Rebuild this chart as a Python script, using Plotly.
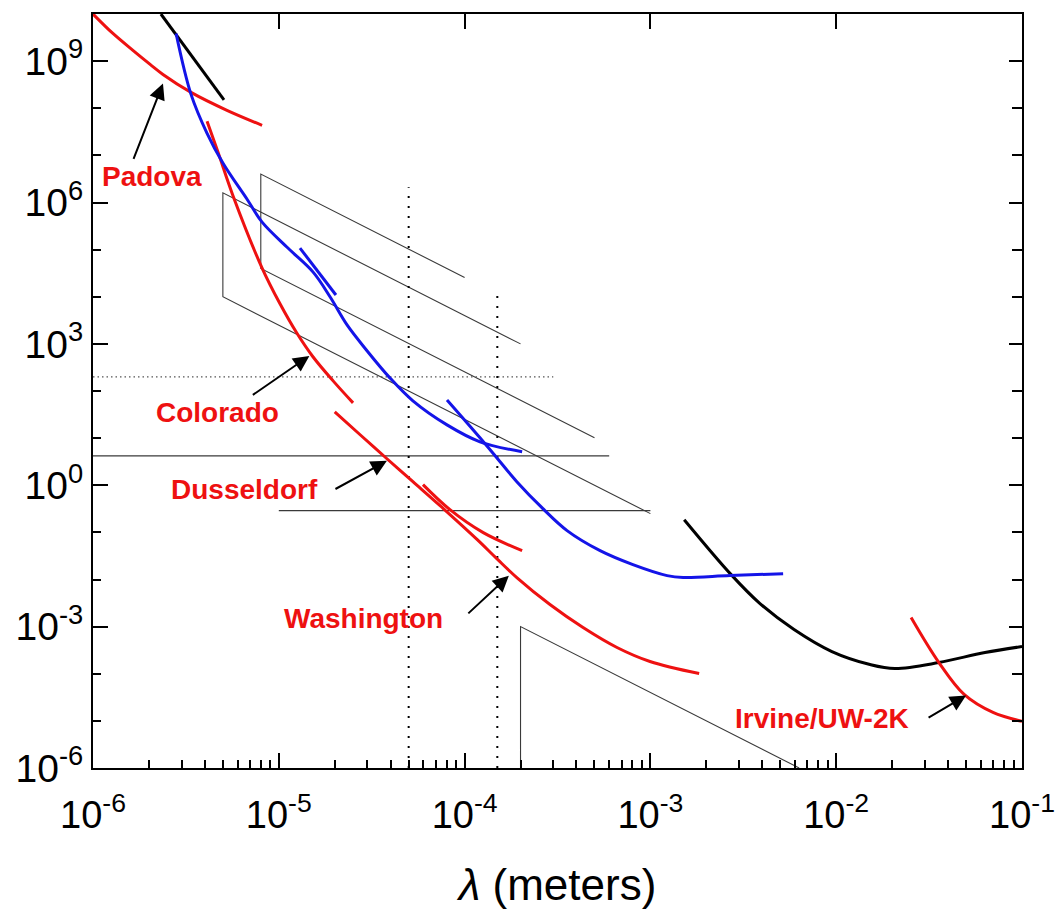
import math
import plotly.graph_objects as go

# ---- measured curves: wavelength (m) vs. strength ----
padova_lam = [1.0e-6, 1.28e-6, 1.64e-6, 2.03e-6, 2.38e-6, 3.37e-6, 5.26e-6, 8.13e-6]
padova_val = [1.0e10, 3.86e9, 1.69e9, 8.51e8, 5.22e8, 2.17e8, 9.04e7, 4.35e7]

black_top_lam = [2.32e-6, 5.07e-6]
black_top_val = [1.0e10, 1.51e8]

blue_main_lam = [2.80e-6, 3.37e-6, 4.11e-6, 5.01e-6, 6.75e-6, 8.13e-6, 1.12e-5,
                 1.53e-5, 1.89e-5, 2.33e-5, 2.99e-5, 3.96e-5, 5.27e-5, 8.04e-5,
                 1.21e-4, 2.04e-4]
blue_main_val = [3.86e9, 1.97e8, 2.94e7, 6.81e6, 1.17e6, 3.83e5, 1.08e5,
                 3.33e4, 9.86e3, 2.52e3, 708, 190, 61.8, 19.1,
                 8.36, 5.13]

blue_short_lam = [1.30e-5, 2.03e-5]
blue_short_val = [1.08e5, 1.09e4]

blue_tail_lam = [8.04e-5, 1.21e-4, 1.49e-4, 1.91e-4, 2.64e-4, 3.56e-4, 5.36e-4,
                 8.05e-4, 1.23e-3, 1.50e-3, 2.68e-3, 5.18e-3]
blue_tail_val = [64.7, 10.2, 3.83, 1.19, 0.318, 0.109, 0.0409,
                 0.0207, 0.0121, 0.0110, 0.0121, 0.0133]

colorado_lam = [4.11e-6, 4.71e-6, 5.68e-6, 8.13e-6, 1.01e-5, 1.25e-5, 1.53e-5,
                1.96e-5, 2.51e-5]
colorado_val = [5.27e7, 1.16e7, 1.36e6, 4.06e4, 7.36e3, 1.70e3, 527, 164, 56.0]

dusseldorf_lam = [2.00e-5, 2.74e-5, 3.82e-5, 5.27e-5, 7.38e-5, 1.17e-4, 1.49e-4,
                  1.91e-4, 2.88e-4, 4.34e-4, 6.61e-4, 9.95e-4, 1.83e-3]
dusseldorf_val = [36.1, 11.8, 3.65, 1.19, 0.368, 0.070, 0.0277,
                  0.0110, 2.94e-3, 9.57e-4, 3.61e-4, 1.82e-4, 1.01e-4]

washington_lam = [5.97e-5, 8.34e-5, 1.26e-4, 2.04e-4]
washington_val = [1.03, 0.303, 0.0986, 0.0409]

black_right_lam = [1.52e-3, 2.72e-3, 3.89e-3, 5.93e-3, 9.48e-3, 1.52e-2, 2.07e-2,
                   3.57e-2, 6.32e-2, 0.1]
black_right_val = [0.186, 0.0127, 3.08e-3, 8.69e-4, 2.96e-4, 1.57e-4, 1.29e-4,
                   1.73e-4, 2.82e-4, 3.78e-4]

irvine_lam = [2.53e-2, 3.57e-2, 4.88e-2, 6.98e-2, 0.1]
irvine_val = [1.56e-3, 1.73e-4, 3.64e-5, 1.51e-5, 9.75e-6]

# ---- projected sensitivity outlines (thin gray) ----
box_a_lam = [1e-3, 5e-6, 5e-6, 2e-4]
box_a_val = [0.25, 1e4, 1.6e6, 1e3]
box_b_lam = [5e-4, 8e-6, 8e-6, 1e-4]
box_b_val = [10.24, 4e4, 4e6, 2.56e4]
wedge_lam = [2e-4, 2e-4, 6.32e-3]
wedge_val = [1e-6, 1e-3, 1e-6]
hline_a_lam = [1e-6, 6e-4]
hline_a_val = [4.2, 4.2]
hline_b_lam = [1e-5, 1e-3]
hline_b_val = [0.29, 0.29]
hdot_lam = [1e-6, 3e-4]
hdot_val = [200, 200]
vdot_a_lam = [5e-5, 5e-5]
vdot_a_val = [1e-6, 2.1e6]
vdot_b_lam = [1.5e-4, 1.5e-4]
vdot_b_val = [1e-6, 1.1e4]

# ---- labels: text, label position, arrow tip, arrow tail offset (px) ----
group_labels = ["Padova", "Colorado", "Dusseldorf", "Washington", "Irvine/UW-2K"]
label_lam = [2.08e-6, 4.65e-6, 6.50e-6, 2.84e-5, 8.39e-3]
label_val = [3.6e6, 34.4, 0.80, 1.49e-3, 1.13e-5]
tip_lam = [2.38e-6, 1.46e-5, 3.82e-5, 1.73e-4, 5.0e-2]
tip_val = [3.37e8, 555, 3.30, 0.012, 3.47e-5]
tail_dx = [-30, -58, -53, -42, -39]
tail_dy = [77, 40, 29, 39, 23]

x_major = [1e-6, 1e-5, 1e-4, 1e-3, 1e-2, 1e-1]
x_text = ["10<sup>-6</sup>", "10<sup>-5</sup>", "10<sup>-4</sup>",
          "10<sup>-3</sup>", "10<sup>-2</sup>", "10<sup>-1</sup>"]
x_minor = [m * d for d in [1e-6, 1e-5, 1e-4, 1e-3, 1e-2] for m in range(2, 10)]
y_major = [1e-6, 1e-3, 1e0, 1e3, 1e6, 1e9]
y_text = ["10<sup>-6</sup>", "10<sup>-3</sup>", "10<sup>0</sup>",
          "10<sup>3</sup>", "10<sup>6</sup>", "10<sup>9</sup>"]
y_minor = [10.0 ** k for k in range(-6, 11) if k % 3 != 0]

RED = "#ee1111"
BLUE = "#1414e8"
BLACK = "#000000"
GRAY = "#3a3a3a"
FONT = "Liberation Sans, Arial, sans-serif"

fig = go.Figure()


def add_line(lam, val, color, width, dash="solid", smooth=False):
    line = dict(color=color, width=width, dash=dash)
    if smooth:
        line.update(shape="spline", smoothing=1.0)
    fig.add_trace(go.Scatter(x=lam, y=val, mode="lines", line=line,
                             showlegend=False, hoverinfo="skip"))


# thin outlines first so the curves sit on top
add_line(box_a_lam, box_a_val, GRAY, 1.1)
add_line(box_b_lam, box_b_val, GRAY, 1.1)
add_line(wedge_lam, wedge_val, GRAY, 1.1)
add_line(hline_a_lam, hline_a_val, GRAY, 1.1)
add_line(hline_b_lam, hline_b_val, GRAY, 1.1)
add_line(hdot_lam, hdot_val, "#555555", 1.2, dash="1.5px,3px")
add_line(vdot_a_lam, vdot_a_val, BLACK, 2, dash="2px,8px")
add_line(vdot_b_lam, vdot_b_val, BLACK, 2, dash="2px,8px")

add_line(black_top_lam, black_top_val, BLACK, 3)
add_line(black_right_lam, black_right_val, BLACK, 3, smooth=True)
add_line(padova_lam, padova_val, RED, 3, smooth=True)
add_line(colorado_lam, colorado_val, RED, 3, smooth=True)
add_line(dusseldorf_lam, dusseldorf_val, RED, 3, smooth=True)
add_line(washington_lam, washington_val, RED, 3, smooth=True)
add_line(irvine_lam, irvine_val, RED, 3, smooth=True)
add_line(blue_main_lam, blue_main_val, BLUE, 3, smooth=True)
add_line(blue_short_lam, blue_short_val, BLUE, 3)
add_line(blue_tail_lam, blue_tail_val, BLUE, 3, smooth=True)

# invisible trace that binds the mirrored frame axes
fig.add_trace(go.Scatter(x=[1e-3], y=[1.0], xaxis="x2", yaxis="y2", mode="markers",
                         marker=dict(opacity=0), showlegend=False, hoverinfo="skip"))

for i, name in enumerate(group_labels):
    fig.add_annotation(x=math.log10(label_lam[i]), y=math.log10(label_val[i]),
                       text=f"<b>{name}</b>", showarrow=False,
                       font=dict(family=FONT, size=28, color=RED),
                       xanchor="center", yanchor="middle")
    fig.add_annotation(x=math.log10(tip_lam[i]), y=math.log10(tip_val[i]), text="",
                       showarrow=True, arrowhead=2, arrowsize=1.6, arrowwidth=2,
                       arrowcolor=BLACK, ax=tail_dx[i], ay=tail_dy[i], standoff=0)

axis_common = dict(type="log", showgrid=False, zeroline=False, showline=True,
                   linecolor=BLACK, linewidth=2, ticks="inside", tickcolor=BLACK,
                   tickwidth=2, automargin=False)

fig.update_layout(
    width=1059, height=909,
    margin=dict(l=93, r=37, t=14, b=141),
    plot_bgcolor="white", paper_bgcolor="white",
    font=dict(family=FONT, color=BLACK),
    xaxis=dict(**axis_common, range=[-6, -1], ticklen=15,
               tickvals=x_major, ticktext=x_text,
               tickfont=dict(family=FONT, size=38), ticklabelstandoff=12,
               minor=dict(tickvals=x_minor, ticks="inside", ticklen=8,
                          tickwidth=1.5, tickcolor=BLACK),
               title=dict(text="<i>λ</i> (meters)", font=dict(family=FONT, size=44),
                          standoff=37)),
    yaxis=dict(**axis_common, range=[-6, 10], ticklen=15,
               tickvals=y_major, ticktext=y_text,
               tickfont=dict(family=FONT, size=39), ticklabelstandoff=0,
               minor=dict(tickvals=y_minor, ticks="inside", ticklen=8,
                          tickwidth=1.5, tickcolor=BLACK)),
    xaxis2=dict(**axis_common, range=[-6, -1], overlaying="x", side="top",
                anchor="y2", ticklen=15, tickvals=x_major, showticklabels=False),
    yaxis2=dict(**axis_common, range=[-6, 10], overlaying="y", side="right",
                anchor="x2", ticklen=13, tickvals=y_major, showticklabels=False,
                minor=dict(tickvals=y_minor, ticks="inside", ticklen=10,
                           tickwidth=1.5, tickcolor=BLACK)),
)

fig.write_html("out.html")
